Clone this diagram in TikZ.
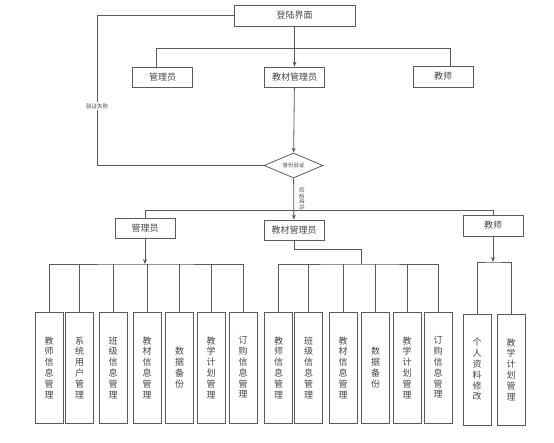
\documentclass[tikz,border=0pt]{standalone}
\usepackage{fontspec}
\setmainfont{Noto Sans CJK SC}
\usepackage{tikz}
\usetikzlibrary{arrows.meta, shapes.geometric, positioning}

\definecolor{linegray}{HTML}{5A5A5A}
\definecolor{textgray}{HTML}{444444}

\tikzset{
    box/.style={draw=linegray, line width=0.8pt, minimum width=60pt, minimum height=20pt, inner sep=0pt, text=textgray, font=\fontsize{9}{10}\selectfont},
    item/.style={draw=linegray, line width=0.8pt, minimum width=28pt, minimum height=111pt, inner sep=0pt, align=center, text=textgray, font=\fontsize{9}{10.8}\selectfont},
    check/.style={draw=linegray, line width=0.8pt, diamond, aspect=2.4, minimum width=59pt, minimum height=25pt, inner sep=0pt, text=textgray, font=\fontsize{5.5}{6}\selectfont},
    conn/.style={draw=linegray, line width=0.8pt},
    arr/.style={conn, -{Stealth[length=5pt, width=4pt]}},
    small/.style={text=textgray, font=\fontsize{5.5}{6}\selectfont, inner sep=1pt}
}

\begin{document}
\begin{tikzpicture}[x=1pt, y=-1pt]
    \useasboundingbox (0,0) rectangle (554,443);

    % top part
    \node[box, minimum width=121pt, minimum height=21pt] (login) at (294.5,15.5) {登陆界面};
    \node[box] (adminA) at (162.5,77) {管理员};
    \node[box] (bookA) at (294.5,77) {教材管理员};
    \node[box, minimum height=21pt] (teachA) at (443,76.5) {教师};
    \node[check] (verify) at (293.5,165.5) {身份验证};

    \coordinate (failtop) at (97,15.5);
    \coordinate (failbot) at (97,165.5);
    \draw[conn] (login.west) -- (failtop) -- (failbot) -- (verify.west);
    \node[small, fill=white] (fail) at (97,106) {验证失败};

    \draw[arr] (login) -- (bookA);
    \coordinate (busA1) at (156,48);
    \coordinate (busA2) at (450,48);
    \draw[conn] ([xshift=-6.5pt]adminA.north) -- (busA1) -- (busA2) -- ([xshift=7pt]teachA.north);
    \draw[arr] (bookA) -- (verify);

    % second level
    \node[box] (adminB) at (145,228) {管理员};
    \node[box] (bookB) at (294,230) {教材管理员};
    \node[box, minimum height=21pt] (teachB) at (493,225.5) {教师};

    \draw[arr] (verify) -- (bookB);
    \node[small, rotate=-90] (pass) at (302,199) {验证成功};
    \coordinate (busB1) at (145,210);
    \coordinate (busB2) at (493,210);
    \draw[conn] (adminB.north) -- (busB1) -- (busB2) -- (teachB.north);

    % admin items
    \node[item] (a1) at (49,367.5) {教\\师\\信\\息\\管\\理};
    \node[item] (a2) at (79.5,367.5) {系\\统\\用\\户\\管\\理};
    \node[item] (a3) at (113,367.5) {班\\级\\信\\息\\管\\理};
    \node[item] (a4) at (147,367.5) {教\\材\\信\\息\\管\\理};
    \node[item] (a5) at (179.5,367.5) {数\\据\\备\\份};
    \node[item] (a6) at (211,367.5) {教\\学\\计\\划\\管\\理};
    \node[item] (a7) at (243,367.5) {订\\购\\信\\息\\管\\理};

    \coordinate (adminbus) at (145,264);
    \draw[arr] (adminB) -- (adminbus);
    \draw[conn] (a1.north) |- (adminbus) -| (a7.north);
    \foreach \n in {a2,a3,a4,a5,a6}
        \draw[conn] (\n.north) -- (\n.north |- adminbus);

    % book manager items
    \node[item] (b1) at (278.5,367.5) {教\\师\\信\\息\\管\\理};
    \node[item] (b2) at (308.5,367.5) {班\\级\\信\\息\\管\\理};
    \node[item] (b3) at (343,367.5) {教\\材\\信\\息\\管\\理};
    \node[item] (b4) at (375.5,367.5) {数\\据\\备\\份};
    \node[item] (b5) at (407,367.5) {教\\学\\计\\划\\管\\理};
    \node[item] (b6) at (438,367.5) {订\\购\\信\\息\\管\\理};

    \coordinate (bookbend) at (361,249);
    \coordinate (bookbus) at (361,264);
    \draw[conn] (bookB.south) |- (bookbend) -- (bookbus);
    \draw[conn] (b1.north) |- (bookbus) -| (b6.north);
    \foreach \n in {b2,b3,b4,b5}
        \draw[conn] (\n.north) -- (\n.north |- bookbus);

    % teacher items
    \node[item] (t1) at (477,369.5) {个\\人\\资\\料\\修\\改};
    \node[item] (t2) at (511,369.5) {教\\学\\计\\划\\管\\理};

    \coordinate (teachbus) at (493,262);
    \draw[arr] (teachB) -- (teachbus);
    \draw[conn] (t1.north) |- (teachbus) -| (t2.north);
\end{tikzpicture}
\end{document}
